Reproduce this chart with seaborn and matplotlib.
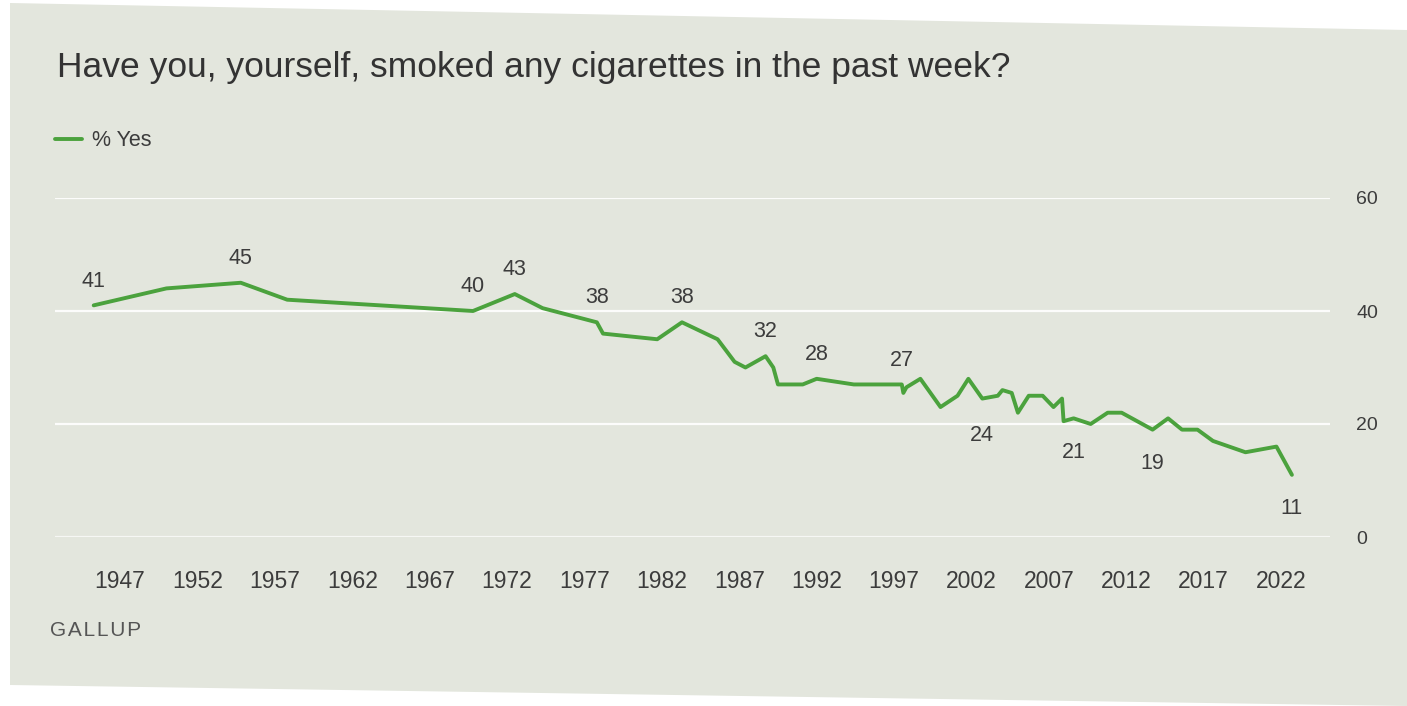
import matplotlib
matplotlib.use("Agg")
import matplotlib.pyplot as plt
from matplotlib.patches import Polygon
import seaborn as sns
import pandas as pd

# ---- data ----
years = [1945.3, 1950.0, 1954.8, 1957.8, 1969.8, 1972.5, 1974.3, 1977.8, 1978.2,
         1981.7, 1983.3, 1985.6, 1986.7, 1987.4, 1988.7, 1989.2, 1989.5, 1991.1,
         1992.0, 1994.4, 1997.5, 1997.6, 1997.8, 1998.7, 2000.0, 2001.1, 2001.8,
         2002.7, 2003.7, 2004.0, 2004.6, 2005.0, 2005.7, 2006.6, 2007.3, 2007.85,
         2007.95, 2008.6, 2009.7, 2010.8, 2011.7, 2012.7, 2013.7, 2014.7, 2015.6,
         2016.6, 2017.6, 2019.7, 2021.7, 2022.7]
pct_yes = [41, 44, 45, 42, 40, 43, 40.5, 38, 36,
           35, 38, 35, 31, 30, 32, 30, 27, 27,
           28, 27, 27, 25.5, 26.5, 28, 23, 25, 28,
           24.5, 25, 26, 25.5, 22, 25, 25, 23, 24.5,
           20.5, 21, 20, 22, 22, 20.5, 19, 21, 19,
           19, 17, 15, 16, 11]

label_years = [1945.3, 1954.8, 1969.8, 1972.5, 1977.8, 1983.3, 1988.7, 1992.0,
               1997.5, 2002.7, 2008.6, 2013.7, 2022.7]
label_values = [41, 45, 40, 43, 38, 38, 32, 28, 27, 24, 21, 19, 11]
label_below = [False, False, False, False, False, False, False, False,
               False, True, True, True, True]

x_ticks = [1947, 1952, 1957, 1962, 1967, 1972, 1977, 1982, 1987, 1992, 1997,
           2002, 2007, 2012, 2017, 2022]
y_ticks = [0, 20, 40, 60]

title = "Have you, yourself, smoked any cigarettes in the past week?"
series_name = "% Yes"

# ---- style ----
BG = "#e3e6dd"
GREEN = "#4ba23d"
TEXT = "#3c3c3c"
W, H = 1407, 706

sns.set_theme(style="white")
plt.rcParams["font.family"] = ["Liberation Sans", "DejaVu Sans"]

fig = plt.figure(figsize=(W / 100, H / 100), dpi=100)
fig.patch.set_facecolor("white")

# slightly skewed card (scan)
card = Polygon([(10 / W, 1 - 3 / H), (1.0, 1 - 30 / H), (1.0, 0.0),
                (10 / W, 1 - 685 / H)], closed=True, transform=fig.transFigure,
               facecolor=BG, edgecolor="none", zorder=-10)
fig.patches.append(card)

ax = fig.add_axes([55 / W, 1 - 537 / H, 1275 / W, 339 / H])
ax.set_facecolor("none")

df = pd.DataFrame({"year": years, "pct": pct_yes})
sns.lineplot(data=df, x="year", y="pct", ax=ax, color=GREEN, linewidth=2.8,
             estimator=None, sort=False, label=series_name, zorder=5)

ax.set_xlim(1942.8, 2025.16)
ax.set_ylim(0, 60)
ax.set_xticks(x_ticks)
ax.set_xticklabels([str(t) for t in x_ticks])
ax.set_yticks(y_ticks)
ax.yaxis.tick_right()
ax.set_xlabel("")
ax.set_ylabel("")
for s in ax.spines.values():
    s.set_visible(False)

ax.grid(False)
for v in y_ticks:
    ax.axhline(v, color="white", linewidth=1.6, zorder=1, alpha=0.9 if v else 0.7)

ax.tick_params(axis="x", which="both", length=10, width=1.2, color="white",
               direction="out", pad=14, labelsize=16.5, labelcolor=TEXT)
ax.tick_params(axis="y", which="both", length=0, pad=19, labelsize=14,
               labelcolor=TEXT)

for yr, val, below in zip(label_years, label_values, label_below):
    ax.annotate(str(val), xy=(yr, val), xytext=(0, -24.5 if below else 17.5),
                textcoords="offset points", ha="center", va="center",
                fontsize=15.5, color=TEXT, zorder=6)

fig.text(57 / W, 1 - 68 / H, title, ha="left", va="center", fontsize=25.5,
         color="#333333")

ax.legend(loc="center left", bbox_to_anchor=(55 / W, 1 - 141 / H),
          bbox_transform=fig.transFigure, frameon=False, fontsize=15.5,
          handlelength=1.25, handletextpad=0.45, borderpad=0, borderaxespad=0,
          labelcolor=TEXT)

fig.text(50 / W, 1 - 630 / H, "G A L L U P".replace(" ", "\u200a"), ha="left",
         va="center", fontsize=15, color="#555555")

fig.savefig("out.png", dpi=100, facecolor=fig.get_facecolor())
